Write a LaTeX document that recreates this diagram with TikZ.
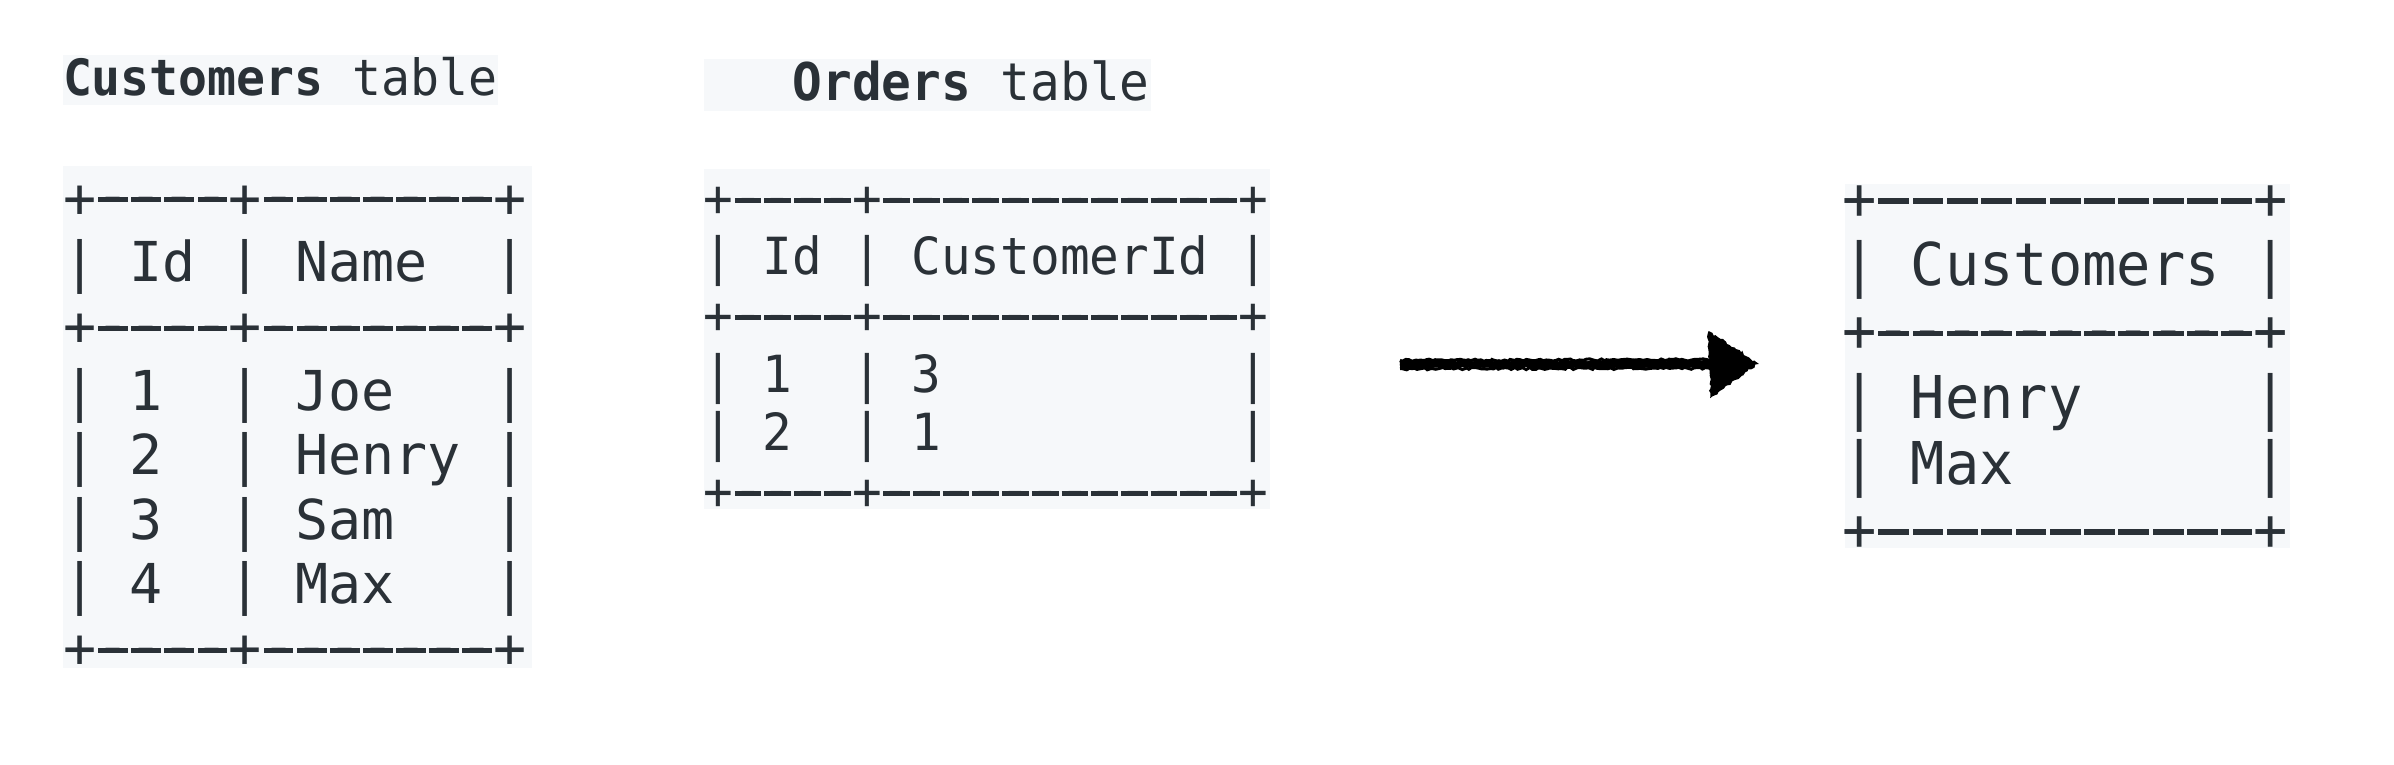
\documentclass[tikz,border=0pt]{standalone}
\usepackage{fontspec}
\usepackage{graphicx}
\usetikzlibrary{decorations.pathmorphing}
\newfontfamily\djm{DejaVu Sans Mono}
\definecolor{codebg}{HTML}{F6F8FA}
\definecolor{codefg}{HTML}{2A3137}
% a table dash: the real hyphen, covered by a rule of the reference's width
\newcommand\D{\makebox[0.602em][c]{\raisebox{0.04em}{-}}\llap{\makebox[0.602em][c]{\rule[0.269em]{0.54em}{0.092em}}}}
\tikzset{
  tline/.style={anchor=base west, inner sep=0pt, outer sep=0pt, text=codefg},
  codebox/.style={fill=codebg},
  chalk/.style={draw=black, line width=#1, decorate,
    decoration={random steps, segment length=3pt, amplitude=1.1pt}},
  chalkhead/.style={fill=black, draw=black, line width=1.5pt, decorate,
    decoration={random steps, segment length=2.5pt, amplitude=1.3pt}},
}
\begin{document}
\begin{tikzpicture}[x=1pt, y=-1pt]
\pgfmathsetseed{7}
\useasboundingbox[fill=white] (0,0) rectangle (2394,764);
% backgrounds
\path[codebox] (63,55) rectangle (498,105);
\path[codebox] (703.5,58.5) rectangle (1151,111);
\path[codebox] (63,166) rectangle (532,668);
\path[codebox] (703.5,169) rectangle (1270,509);
\path[codebox] (1845,184) rectangle (2290,548);
% titles
\node[tline, font={\djm\fontsize{50}{60}\selectfont}] (custtitle) at (63,95)
  {\scalebox{0.963}[1]{\textbf{Customers}~table}};
\node[tline, font={\djm\fontsize{52}{60}\selectfont}] (ordtitle) at (703.5,100)
  {\scalebox{0.95}[1]{~~~\textbf{Orders}~table}};
% Customers table
\foreach \t [count=\i from 0] in {
  {+\D\D\D\D+\D\D\D\D\D\D\D+},
  {|~Id~|~Name~~|},
  {+\D\D\D\D+\D\D\D\D\D\D\D+},
  {|~1~~|~Joe~~~|},
  {|~2~~|~Henry~|},
  {|~3~~|~Sam~~~|},
  {|~4~~|~Max~~~|},
  {+\D\D\D\D+\D\D\D\D\D\D\D+}}{
  \node[tline, font={\djm\fontsize{55}{64}\selectfont}] (cust-\i) at (63.4,217+\i*64.4) {\t};
}
% Orders table
\foreach \t [count=\i from 0] in {
  {+\D\D\D\D+\D\D\D\D\D\D\D\D\D\D\D\D+},
  {|~Id~|~CustomerId~|},
  {+\D\D\D\D+\D\D\D\D\D\D\D\D\D\D\D\D+},
  {|~1~~|~3~~~~~~~~~~|},
  {|~2~~|~1~~~~~~~~~~|},
  {+\D\D\D\D+\D\D\D\D\D\D\D\D\D\D\D\D+}}{
  \node[tline, font={\djm\fontsize{51.2}{60}\selectfont}] (ord-\i) at (703.5,216.3+\i*58.6) {\scalebox{0.964}[1]{\t}};
}
% Result table
\foreach \t [count=\i from 0] in {
  {+\D\D\D\D\D\D\D\D\D\D\D+},
  {|~Customers~|},
  {+\D\D\D\D\D\D\D\D\D\D\D+},
  {|~Henry~~~~~|},
  {|~Max~~~~~~~|},
  {+\D\D\D\D\D\D\D\D\D\D\D+}}{
  \node[tline, font={\djm\fontsize{59}{66}\selectfont}] (res-\i) at (1842.2,219.5+\i*66.2) {\scalebox{0.966}[1]{\t}};
}
% arrow (hand-drawn look)
\coordinate (arrS) at (1400,364.5);
\coordinate (arrE) at (1712,364);
\coordinate (headT) at (1709,332);
\coordinate (headTip) at (1757,363.5);
\coordinate (headB) at (1711,396.5);
\draw[chalk=7pt] (arrS) -- (arrE);
\foreach \dy in {-4.2,-1.5,1.5,4.2}{
  \draw[chalk=3pt] ([yshift=\dy pt]arrS) -- ([yshift=\dy pt]arrE);
}
\path[chalkhead] (headT) -- (headTip) -- (headB) -- cycle;
\end{tikzpicture}
\end{document}
